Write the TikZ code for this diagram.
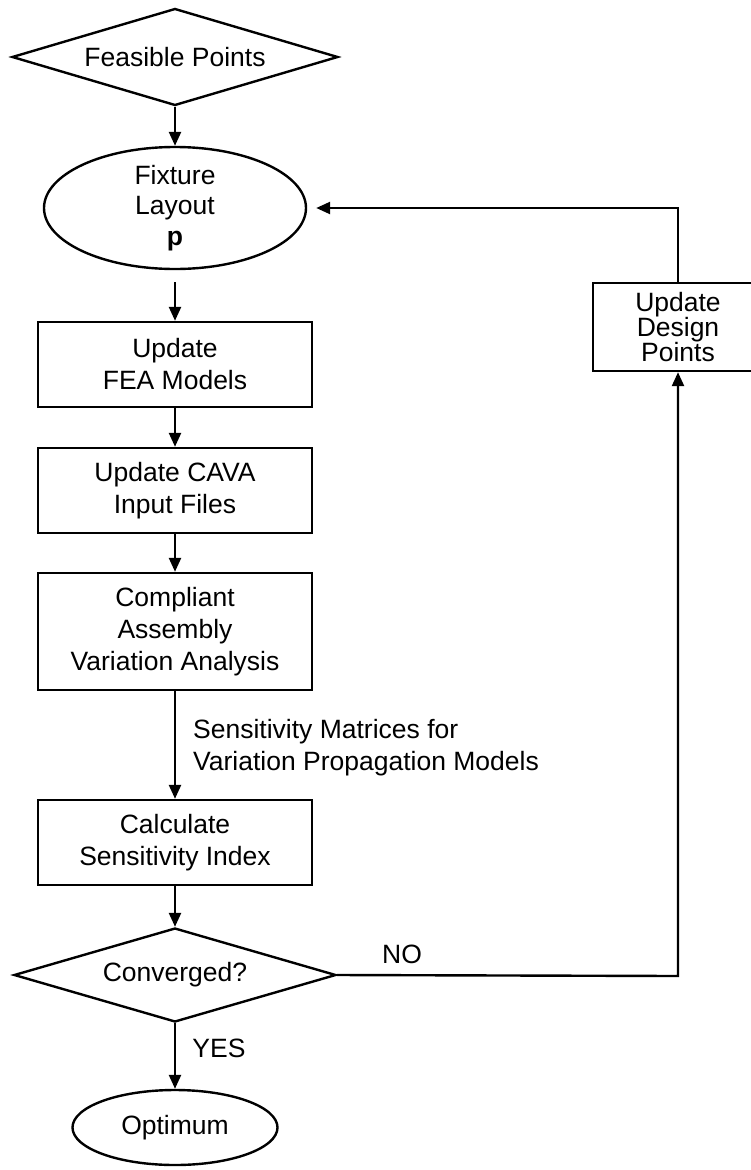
\documentclass[tikz,border=0pt]{standalone}
\usepackage{fontspec}
\setmainfont{Liberation Sans}
\usetikzlibrary{shapes.geometric,arrows.meta}
\begin{document}
\begin{tikzpicture}[x=1pt,y=-1pt,
  every node/.style={font=\fontsize{26.5}{32}\selectfont, align=center, inner sep=0pt},
  line/.style={line width=2.4pt},
  flow/.style={line, -{Triangle[length=14pt,width=12pt]}},
  procbox/.style={draw, line width=2.4pt, rectangle, minimum width=274pt},
  decide/.style={draw, line width=2.4pt, diamond},
  terminal/.style={draw, line width=2.4pt, ellipse}]
\useasboundingbox (0,0) rectangle (751,1170);
\clip (0,0) rectangle (751,1170);

% main column
\node[decide, aspect=3.36, minimum width=326pt, minimum height=97pt] (feas) at (175,57) {Feasible Points};
\node[terminal, minimum width=262pt, minimum height=122pt,
  font=\fontsize{26.5}{30.5}\selectfont] (fix) at (175,208)
  {Fixture\\Layout\\\textbf{p}};
\node[procbox, minimum height=85pt] (fea) at (175,364.5) {Update\\FEA Models};
\node[procbox, minimum height=85pt] (cava) at (175,490.5) {Update CAVA\\Input Files};
\node[procbox, minimum height=117pt] (cav) at (175,631.5)
  {Compliant\\Assembly\\Variation Analysis};
\node[procbox, minimum height=85pt] (calc) at (175,842.5) {Calculate\\Sensitivity Index};
\node[decide, aspect=3.43, minimum width=322pt, minimum height=94pt] (conv) at (175,975) {Converged?};
\node[terminal, minimum width=205pt, minimum height=75pt] (opt) at (175,1127.5) {Optimum};

% feedback branch
\node[draw, line width=2.4pt, rectangle, minimum width=170pt, minimum height=88pt,
  font=\fontsize{26.5}{25}\selectfont] (upd) at (678,327) {Update\\Design\\Points};
\coordinate (cornerA) at (678,976);
\coordinate (cornerB) at (678,208);

% connectors
\draw[flow] (feas.south) -- (fix.north);
\draw[flow, shorten <=12pt] (fix.south) -- (fea.north);
\draw[flow] (fea.south) -- (cava.north);
\draw[flow] (cava.south) -- (cav.north);
\draw[flow] (cav.south) -- (calc.north);
\draw[flow] (calc.south) -- (conv.north);
\draw[flow] (conv.south) -- (opt.north);
\draw[flow] (conv.east) -- (cornerA) -- (upd.south);
\draw[flow, shorten >=9pt] (upd.north) -- (cornerB) -- (fix.east);

% labels
\node[anchor=west, align=left] (sens) at (193,748)
  {Sensitivity Matrices for\\Variation Propagation Models};
\node (no) at (402,954) {NO};
\node (yes) at (219,1048) {YES};
\end{tikzpicture}
\end{document}
